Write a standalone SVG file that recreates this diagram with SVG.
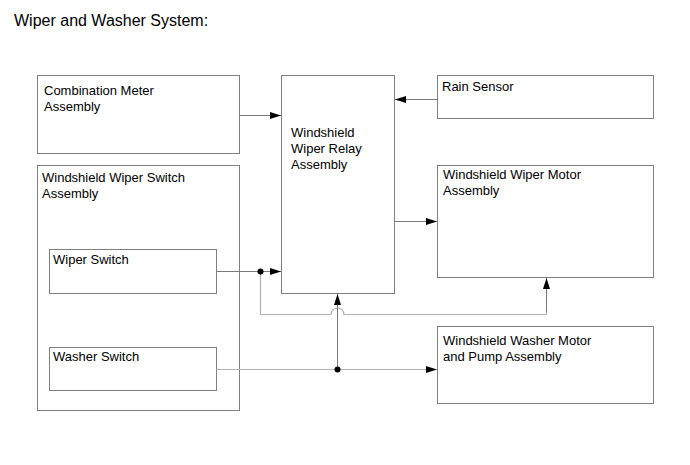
<svg xmlns="http://www.w3.org/2000/svg" width="690" height="465" viewBox="0 0 690 465">
<style>
text{font-family:"Liberation Sans",Arial,sans-serif;font-size:13px;fill:#000}
.title{font-size:16px}
.box{fill:#fff;stroke:#808080;stroke-width:1}
.ln{fill:none;stroke:#7a7a7a;stroke-width:1}
.ln2{fill:none;stroke:#b0b0b0;stroke-width:1.2}
</style>
<defs>
<marker id="ah" markerUnits="userSpaceOnUse" markerWidth="12" markerHeight="8" refX="11" refY="3.5" orient="auto">
<path d="M0,0 L11,3.5 L0,7 z" fill="#000"/>
</marker>
</defs>
<rect width="690" height="465" fill="#fff"/>
<text class="title" x="14" y="26">Wiper and Washer System:</text>

<g id="combination-meter">
<rect class="box" x="37.5" y="75.5" width="202" height="78"/>
<text x="44" y="95">Combination Meter</text>
<text x="44" y="111">Assembly</text>
</g>
<g id="relay">
<rect class="box" x="281.5" y="75.5" width="113" height="218"/>
<text x="291" y="137">Windshield</text>
<text x="291" y="153">Wiper Relay</text>
<text x="291" y="169">Assembly</text>
</g>
<g id="rain-sensor">
<rect class="box" x="437.5" y="75.5" width="216" height="43"/>
<text x="442" y="91">Rain Sensor</text>
</g>
<g id="wiper-motor">
<rect class="box" x="437.5" y="165.5" width="216" height="112"/>
<text x="443" y="179">Windshield Wiper Motor</text>
<text x="443" y="195">Assembly</text>
</g>
<g id="washer-motor">
<rect class="box" x="437.5" y="326.5" width="216" height="77"/>
<text x="443" y="345">Windshield Washer Motor</text>
<text x="443" y="361">and Pump Assembly</text>
</g>
<g id="switch-assembly">
<rect class="box" x="37.5" y="165.5" width="202" height="245"/>
<text x="42" y="182">Windshield Wiper Switch</text>
<text x="42" y="198">Assembly</text>
</g>
<g id="wiper-switch">
<rect class="box" x="49.5" y="249.5" width="167" height="44"/>
<text x="53" y="264">Wiper Switch</text>
</g>
<g id="washer-switch">
<rect class="box" x="49.5" y="347.5" width="167" height="43"/>
<text x="53" y="361">Washer Switch</text>
</g>

<g id="connectors">
<line class="ln" x1="239.5" y1="115.5" x2="281" y2="115.5" marker-end="url(#ah)"/>
<line class="ln" x1="437.5" y1="99.5" x2="395" y2="99.5" marker-end="url(#ah)"/>
<line class="ln" x1="394.5" y1="221.5" x2="437" y2="221.5" marker-end="url(#ah)"/>
<line class="ln" x1="216.5" y1="271.5" x2="281" y2="271.5" marker-end="url(#ah)"/>
<path class="ln2" d="M260.5,271.5 V314.5 H331 A6.5,6.5 0 0 1 344,314.5 H546.5 V311"/>
<line class="ln" x1="546.5" y1="312" x2="546.5" y2="278" marker-end="url(#ah)"/>
<line class="ln" x1="337.5" y1="369.5" x2="337.5" y2="294" marker-end="url(#ah)"/>
<line class="ln2" x1="216.5" y1="369.5" x2="437" y2="369.5" marker-end="url(#ah)"/>
<circle cx="260.5" cy="271.5" r="3" fill="#000"/>
<circle cx="337.5" cy="369.5" r="3" fill="#000"/>
</g>
</svg>
